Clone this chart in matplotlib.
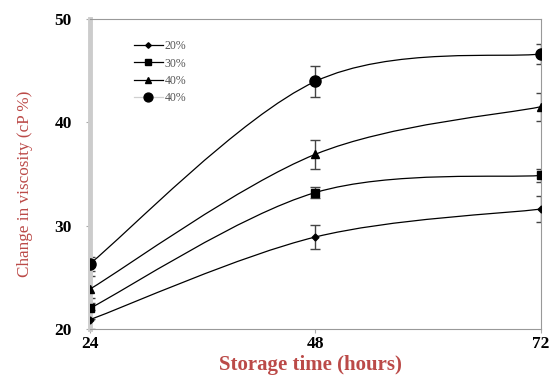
import numpy as np
import matplotlib
matplotlib.use("Agg")
import matplotlib.pyplot as plt
from matplotlib.path import Path
from matplotlib.patches import PathPatch

hours = [24, 48, 72]
labels = ["20%", "30%", "40%", "40%"]
conc_20 = [20.9, 28.9, 31.6]
conc_30 = [22.0, 33.2, 34.85]
conc_40a = [23.85, 36.9, 41.5]
conc_40b = [26.3, 43.95, 46.6]
err_20 = [0.9, 1.2, 1.3]
err_30 = [1.0, 0.5, 0.6]
err_40a = [1.3, 1.4, 1.35]
err_40b = [0.7, 1.5, 1.0]
yticks = [20, 30, 40, 50]

series = [conc_20, conc_30, conc_40a, conc_40b]
errors = [err_20, err_30, err_40a, err_40b]
markers = [("D", 3.5), ("s", 6), ("^", 5.5), ("o", 8)]

red = "#bb4a48"
serif = ["Liberation Serif", "DejaVu Serif"]


def smooth_path(xs, ys):
    """Bezier spline through the points, Excel-style smoothing."""
    pts = np.column_stack([xs, ys]).astype(float)
    n = len(pts)
    verts = [pts[0]]
    codes = [Path.MOVETO]
    for i in range(n - 1):
        p_prev = pts[i - 1] if i > 0 else pts[i]
        p_next2 = pts[i + 2] if i + 2 < n else pts[i + 1]
        c1 = pts[i] + (pts[i + 1] - p_prev) / 6.0
        c2 = pts[i + 1] - (p_next2 - pts[i]) / 6.0
        verts += [c1, c2, pts[i + 1]]
        codes += [Path.CURVE4] * 3
    return Path(verts, codes)


fig = plt.figure(figsize=(5.51, 3.76), dpi=100)
ax = fig.add_axes([0.163, 0.125, 0.819, 0.825])

for k, (vals, errs, (m, ms), lab) in enumerate(zip(series, errors, markers, labels)):
    ax.add_patch(PathPatch(smooth_path(hours, vals), fill=False,
                           edgecolor="black", lw=0.9, zorder=3))
    ax.errorbar(hours, vals, yerr=errs, fmt="none", ecolor="#444444",
                elinewidth=1.0, capsize=3.5, capthick=1.0, zorder=2)
    ax.plot(hours, vals, linestyle="none", marker=m, markersize=ms,
            color="black", zorder=4)
    # legend handle (last entry drawn with a pale line)
    ax.plot([], [], color="#d0d0d0" if k == len(series) - 1 else "black",
            lw=0.9, marker=m, markersize=ms * 0.8, markerfacecolor="black",
            markeredgecolor="black", label=lab)

ax.set_xlim(24, 72)
ax.set_ylim(20, 50)
ax.set_xticks(hours)
ax.set_yticks(yticks)
ax.set_xticklabels([str(h) for h in hours], fontfamily=serif,
                   fontweight="bold", fontsize=12.5)
ax.set_yticklabels([str(t) for t in yticks], fontfamily=serif,
                   fontweight="bold", fontsize=12.5)
ax.tick_params(axis="both", colors="#aaaaaa", length=3, width=0.8,
               labelcolor="black")
ax.tick_params(axis="x", pad=2)
ax.tick_params(axis="y", pad=10)

for side in ["top", "right", "bottom"]:
    ax.spines[side].set_color("#999999")
    ax.spines[side].set_linewidth(0.8)
ax.spines["left"].set_color("#cccccc")
ax.spines["left"].set_linewidth(3.5)

fig.text(310 / 551, 1.0 / 376, "Storage time (hours)", fontfamily=serif,
         fontweight="bold", fontsize=15, color=red, ha="center", va="bottom")
fig.text(25 / 551, 1 - 184 / 376, "Change in viscosity (cP %)",
         fontfamily=serif, fontsize=12.3, color=red, rotation=90,
         ha="center", va="center")

leg = ax.legend(loc="upper left", bbox_to_anchor=(0.075, 0.965), frameon=False,
                prop={"family": serif, "size": 8.5},
                handlelength=2.4, labelspacing=0.45, handletextpad=0.15)
for t in leg.get_texts():
    t.set_color("#555555")

fig.savefig("out.png", dpi=100)
